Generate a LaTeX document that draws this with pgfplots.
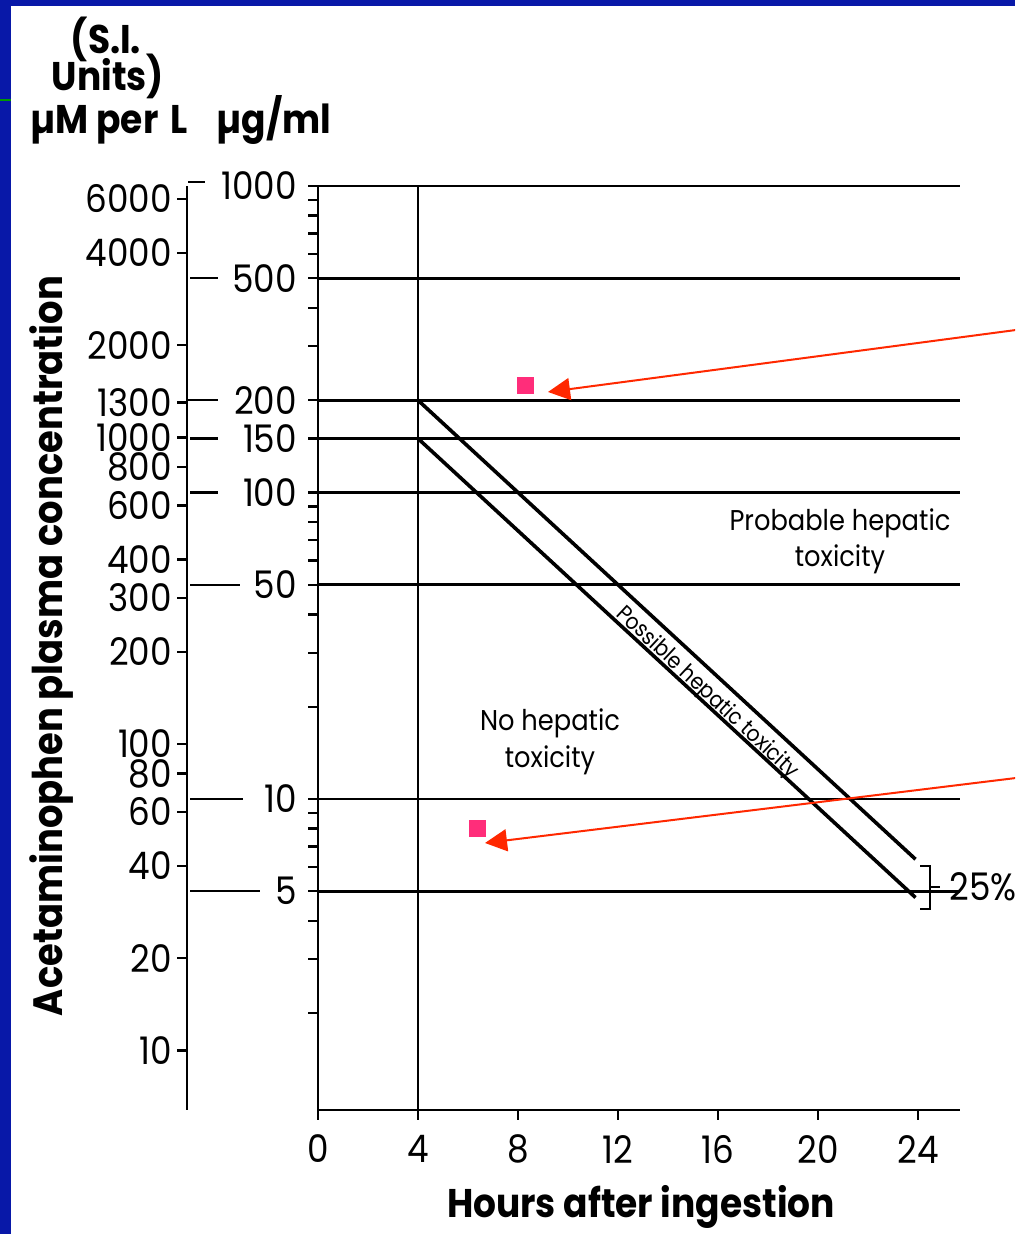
\documentclass[border=0pt]{standalone}
\usepackage{fontspec}
\setmainfont{Poppins}[FakeStretch=0.9]
\usepackage{pgfplots}
\pgfplotsset{compat=1.18}
\usetikzlibrary{arrows.meta}
\definecolor{bblue}{RGB}{8,24,168}
\definecolor{pinksq}{RGB}{255,45,122}
\definecolor{redarr}{RGB}{255,40,0}
\newcommand\digits{\fontsize{19pt}{22pt}\selectfont}
\newcommand\titlefont{\bfseries\fontsize{20pt}{22pt}\selectfont}
\newcommand\regionfont{\fontsize{14.3pt}{16pt}\selectfont}
\begin{document}
\begin{tikzpicture}[x=0.5pt,y=0.5pt]
\useasboundingbox (0,0) rectangle (1015,1234);
\fill[white] (0,0) rectangle (1015,1234);
\begin{scope}
\clip (0,0) rectangle (1015,1234);
% umol axis
\begin{axis}[
  at={(93.5pt,62pt)}, anchor=south west, scale only axis,
  width=1pt, height=462pt,
  xmin=0, xmax=1, ymode=log, ymin=6.395, ymax=6615,
  hide x axis, axis y line=left, axis line style={-, line width=1.2pt},
  ytick={10,20,40,60,80,100,200,300,400,600,800,1000,1300,2000,4000,6000},
  yticklabels={10,20,40,60,80,100,200,300,400,600,800,1000,1300,2000,4000,6000},
  minor ytick={},
  tick align=outside, major tick length=5pt,
  every tick/.style={black, line width=1.2pt},
  tick label style={font=\digits},
  yticklabel style={anchor=east, xshift=1pt},
  /pgf/number format/assume math mode=true,
]
\addplot[draw=none] coordinates {(0,10) (1,6000)};
\end{axis}
% main axis (ug/ml)
\begin{axis}[
  at={(159pt,62pt)}, anchor=south west, scale only axis,
  width=321pt, height=462pt,
  xmin=0, xmax=25.68, ymode=log, ymin=0.9667, ymax=1000,
  axis x line=bottom, axis y line=left,
  axis line style={-, line width=1.2pt},
  xtick={0,4,8,12,16,20,24},
  xticklabels={0,4,8,12,16,20,24},
  ytick={5,10,50,100,150,200,500,1000},
  yticklabels={5,10,50,100,150,200,500,1000},
  minor ytick={2,3,4,6,7,8,9,20,30,40,60,70,80,90,300,400,600,700,800,900},
  tick align=outside, major tick length=5pt, minor tick length=5pt,
  every tick/.style={black, line width=1.2pt},
  ymajorgrids, major grid style={black, line width=1.3pt},
  tick label style={font=\digits},
  yticklabel style={anchor=east, xshift=-2pt},
  xticklabel style={yshift=-4pt},
  /pgf/number format/assume math mode=true,
  clip=false,
]
% leader lines from the uM axis to the ug/ml labels
\draw[line width=1.2pt] (axis cs:-5.2,1030) -- (axis cs:-4.52,1030);
\draw[line width=1.2pt] (axis cs:-5.12,500) -- (axis cs:-4.0,500);
\draw[line width=1.2pt] (axis cs:-5.2,200) -- (axis cs:-4.0,200);
\draw[line width=1.2pt] (axis cs:-5.12,150) -- (axis cs:-4.0,150);
\draw[line width=1.2pt] (axis cs:-5.12,100) -- (axis cs:-4.0,100);
\draw[line width=1.2pt] (axis cs:-5.12,50) -- (axis cs:-3.12,50);
\draw[line width=1.2pt] (axis cs:-5.12,10) -- (axis cs:-3.0,10);
\draw[line width=1.2pt] (axis cs:-5.12,5) -- (axis cs:-2.32,5);
% 4 h vertical line
\addplot[black, line width=1.2pt] coordinates {(4,0.9667) (4,1000)};
% treatment lines
\addplot[black, line width=1.8pt] coordinates {(4,200) (23.9,6.36)};
\addplot[black, line width=1.8pt] coordinates {(4,150) (23.9,4.77)};
% patient points
\addplot[only marks, mark=square*, mark size=4pt, color=pinksq] coordinates {(8.28,224) (6.36,8.04)};
\end{axis}
% bracket and 25%
\draw[line width=1.2pt] (920,1234-866) -- (930,1234-866) -- (930,1234-909) -- (920,1234-909);
\draw[line width=1.2pt] (930,1234-887) -- (940,1234-887);
\node[anchor=base west, inner sep=0pt, font=\digits] at (949,1234-901) {25\%};
% region labels
\node[anchor=base, inner sep=0pt, font=\regionfont] at (840,1234-531) {Probable hepatic};
\node[anchor=base, inner sep=0pt, font=\regionfont] at (840,1234-567) {toxicity};
\node[anchor=base, inner sep=0pt, font=\regionfont] at (550,1234-731) {No hepatic};
\node[anchor=base, inner sep=0pt, font=\regionfont] at (550,1234-768) {toxicity};
\node[rotate=-43, inner sep=0pt, font=\fontsize{11.2pt}{13pt}\selectfont] at (707,1234-693) {Possible hepatic toxicity};
% arrows
\draw[redarr, line width=1pt, -{Triangle[length=11pt, width=11pt]}] (1016,1234-330) -- (548,1234-392);
\draw[redarr, line width=1pt, -{Triangle[length=11pt, width=11pt]}] (1016,1234-778) -- (485,1234-843);
% axis titles
\node[anchor=base, inner sep=0pt, font=\titlefont] at (641,1234-1217) {Hours after ingestion};
\node[anchor=base, rotate=90, inner sep=0pt, font=\bfseries\fontsize{20.5pt}{22pt}\selectfont] at (62,1234-646) {Acetaminophen plasma concentration};
\node[anchor=base, inner sep=0pt, font=\titlefont] at (106,1234-54) {(S.I.};
\node[anchor=base, inner sep=0pt, font=\titlefont] at (108,1234-91) {Units)};
\node[anchor=base, inner sep=0pt, font=\titlefont] at (109,1234-134) {µM per\hspace{0.3em}L};
\node[anchor=base, inner sep=0pt, font=\titlefont] at (274,1234-134) {µg/ml};
\end{scope}
% slide border
\fill[bblue] (0,0) rectangle (11,1234);
\fill[bblue] (0,1228) rectangle (1015,1234);
\draw[green!60!black, line width=0.6pt] (0,1234-100) -- (11,1234-100);
\end{tikzpicture}
\end{document}
